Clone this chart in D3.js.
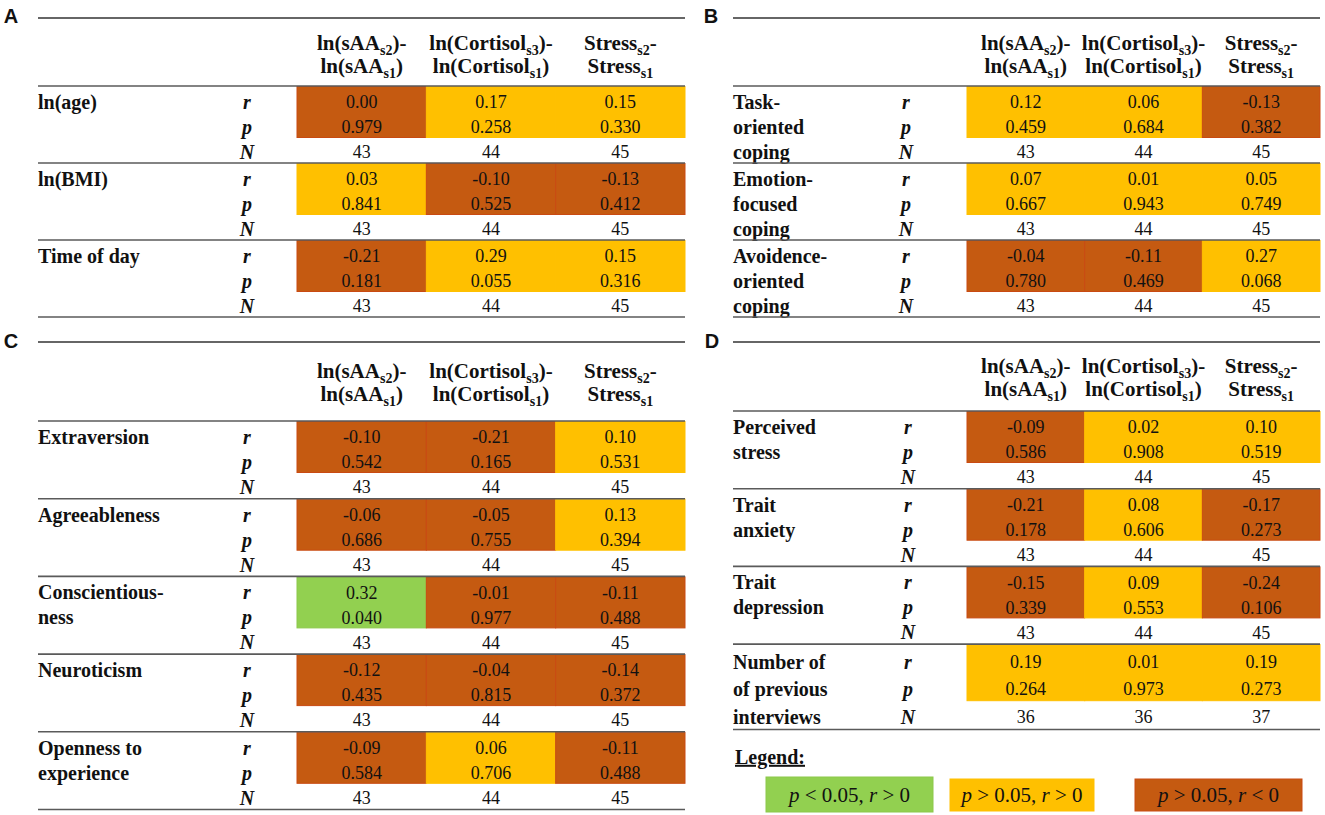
<!DOCTYPE html>
<html>
<head>
<meta charset="utf-8">
<script src="https://cdn.jsdelivr.net/npm/d3@7"></script>
<style>
  html, body { margin: 0; padding: 0; background: #fff; }
  svg { display: block; font-family: "Liberation Serif", "Times New Roman", serif; }
</style>
</head>
<body>
<svg id="chart" width="1325" height="815"></svg>
<script>
// column heads: [text, subscript, tail] for the two header lines
const headTop = [['ln(sAA', 's2', ')-'], ['ln(Cortisol', 's3', ')-'], ['Stress', 's2', '-']];
const headBottom = [['ln(sAA', 's1', ')'], ['ln(Cortisol', 's1', ')'], ['Stress', 's1', '']];
const statNames = ['r', 'p', 'N'];

// panel A
const rowsA = [['ln(age)'], ['ln(BMI)'], ['Time of day']];
const rA = [[0.00, 0.17, 0.15], [0.03, -0.10, -0.13], [-0.21, 0.29, 0.15]];
const pA = [[0.979, 0.258, 0.330], [0.841, 0.525, 0.412], [0.181, 0.055, 0.316]];
const nA = [[43, 44, 45], [43, 44, 45], [43, 44, 45]];
const tagA = [['neg', 'pos', 'pos'], ['pos', 'neg', 'neg'], ['neg', 'pos', 'pos']];

// panel B
const rowsB = [['Task-', 'oriented', 'coping'], ['Emotion-', 'focused', 'coping'], ['Avoidence-', 'oriented', 'coping']];
const rB = [[0.12, 0.06, -0.13], [0.07, 0.01, 0.05], [-0.04, -0.11, 0.27]];
const pB = [[0.459, 0.684, 0.382], [0.667, 0.943, 0.749], [0.780, 0.469, 0.068]];
const nB = [[43, 44, 45], [43, 44, 45], [43, 44, 45]];
const tagB = [['pos', 'pos', 'neg'], ['pos', 'pos', 'pos'], ['neg', 'neg', 'pos']];

// panel C
const rowsC = [['Extraversion'], ['Agreeableness'], ['Conscientious-', 'ness'], ['Neuroticism'], ['Openness to', 'experience']];
const rC = [[-0.10, -0.21, 0.10], [-0.06, -0.05, 0.13], [0.32, -0.01, -0.11], [-0.12, -0.04, -0.14], [-0.09, 0.06, -0.11]];
const pC = [[0.542, 0.165, 0.531], [0.686, 0.755, 0.394], [0.040, 0.977, 0.488], [0.435, 0.815, 0.372], [0.584, 0.706, 0.488]];
const nC = [[43, 44, 45], [43, 44, 45], [43, 44, 45], [43, 44, 45], [43, 44, 45]];
const tagC = [['neg', 'neg', 'pos'], ['neg', 'neg', 'pos'], ['sig', 'neg', 'neg'], ['neg', 'neg', 'neg'], ['neg', 'pos', 'neg']];

// panel D
const rowsD = [['Perceived', 'stress'], ['Trait', 'anxiety'], ['Trait', 'depression'], ['Number of', 'of previous', 'interviews']];
const rD = [[-0.09, 0.02, 0.10], [-0.21, 0.08, -0.17], [-0.15, 0.09, -0.24], [0.19, 0.01, 0.19]];
const pD = [[0.586, 0.908, 0.519], [0.178, 0.606, 0.273], [0.339, 0.553, 0.106], [0.264, 0.973, 0.273]];
const nD = [[43, 44, 45], [43, 44, 45], [43, 44, 45], [36, 36, 37]];
const tagD = [['neg', 'pos', 'pos'], ['neg', 'pos', 'neg'], ['neg', 'pos', 'neg'], ['pos', 'pos', 'pos']];

// legend
const legendKeys = ['sig', 'pos', 'neg'];
const legendP = ['<', '>', '>'];
const legendR = ['>', '>', '<'];

const fill = d3.scaleOrdinal().domain(legendKeys).range(['#92d050', '#ffc000', '#c55a11']);
const edge = d3.scaleOrdinal().domain(legendKeys).range(['#8cc84a', '#ffc000', '#c94a12']);
const fmt2 = (v) => v.toFixed(2);
const fmt3 = (v) => v.toFixed(3);

const svg = d3.select('#chart');

const panels = [
  { letter: 'A', rows: rowsA, r: rA, p: pA, n: nA, tag: tagA, x0: 38, x1: 685, statX: 247, cellX0: 297, top: 18, head1: 44, head2: 67, sep: 86, groupH: 77, letterX: 11, letterY: 16 },
  { letter: 'B', rows: rowsB, r: rB, p: pB, n: nB, tag: tagB, x0: 733, x1: 1320, statX: 906, cellX0: 967, top: 18, head1: 44, head2: 67, sep: 86, groupH: 77, letterX: 711, letterY: 16 },
  { letter: 'C', rows: rowsC, r: rC, p: pC, n: nC, tag: tagC, x0: 38, x1: 685, statX: 247, cellX0: 297, top: 342, head1: 372, head2: 395, sep: 421, groupH: 77.7, letterX: 11, letterY: 341 },
  { letter: 'D', rows: rowsD, r: rD, p: pD, n: nD, tag: tagD, x0: 733, x1: 1320, statX: 908, cellX0: 967, top: 342, head1: 367, head2: 390, sep: 411, groupH: 77.7, letterX: 712, letterY: 341, lastStretch: 1.1 },
];

function addHead(g, parts, x, y) {
  const t = g.append('text').attr('x', x).attr('y', y).attr('dy', '0.3em')
    .attr('text-anchor', 'middle').attr('font-weight', 'bold').attr('font-size', 21).attr('fill', '#111');
  t.append('tspan').text(parts[0]);
  t.append('tspan').attr('font-size', 14).attr('dy', 5).text(parts[1]);
  if (parts[2]) t.append('tspan').attr('dy', -5).text(parts[2]);
}

function drawPanel(cfg) {
  const g = svg.append('g');
  const x = d3.scaleBand().domain([0, 1, 2]).range([cfg.cellX0, cfg.x1]);
  const weights = cfg.rows.map((_, i) => (cfg.lastStretch && i === cfg.rows.length - 1 ? cfg.lastStretch : 1));
  const tops = [0, ...d3.cumsum(weights)].map((w) => cfg.sep + w * cfg.groupH);
  const statY = d3.scalePoint().domain(statNames).range([16, 66]);

  g.append('text').attr('x', cfg.letterX).attr('y', cfg.letterY).attr('dy', '0.36em')
    .attr('text-anchor', 'middle').attr('font-family', '"Liberation Sans", Arial, sans-serif')
    .attr('font-weight', 'bold').attr('font-size', 20).attr('fill', '#111').text(cfg.letter);

  // header
  x.domain().forEach((c) => {
    addHead(g, headTop[c], x(c) + x.bandwidth() / 2, cfg.head1);
    addHead(g, headBottom[c], x(c) + x.bandwidth() / 2, cfg.head2);
  });

  cfg.rows.forEach((label, i) => {
    const y0 = tops[i];
    const k = weights[i];
    const gy = (s) => y0 + statY(s) * k;
    // coloured r/p cells
    g.selectAll(null).data(cfg.tag[i]).join('rect')
      .attr('x', (_, c) => x(c)).attr('y', y0 + 0.5)
      .attr('width', x.bandwidth()).attr('height', 51 * k)
      .attr('fill', (d) => fill(d)).attr('stroke', (d) => edge(d)).attr('stroke-width', 1);
    // values
    const vals = [cfg.r[i].map(fmt2), cfg.p[i].map(fmt3), cfg.n[i].map(String)];
    statNames.forEach((s, si) => {
      g.selectAll(null).data(vals[si]).join('text')
        .attr('x', (_, c) => x(c) + x.bandwidth() / 2).attr('y', gy(s)).attr('dy', '0.34em')
        .attr('text-anchor', 'middle').attr('font-size', 18).attr('fill', '#111').text((d) => d);
      g.append('text').attr('x', cfg.statX).attr('y', gy(s)).attr('dy', '0.34em')
        .attr('text-anchor', 'middle').attr('font-size', 20).attr('font-weight', 'bold')
        .attr('font-style', 'italic').attr('fill', '#111').text(s);
    });
    // row label lines
    g.selectAll(null).data(label).join('text')
      .attr('x', cfg.x0).attr('y', (_, j) => gy(statNames[j])).attr('dy', '0.34em')
      .attr('font-size', 20).attr('font-weight', 'bold').attr('fill', '#111').text((d) => d);
  });

  // rules
  g.append('line').attr('x1', cfg.x0).attr('x2', cfg.x1).attr('y1', cfg.top).attr('y2', cfg.top)
    .attr('stroke', '#333').attr('stroke-width', 1.4);
  g.selectAll(null).data(tops).join('line')
    .attr('x1', cfg.x0).attr('x2', cfg.x1).attr('y1', (d) => d).attr('y2', (d) => d)
    .attr('stroke', '#5a5a5a').attr('stroke-width', 1.6);
}

panels.forEach(drawPanel);

// legend
const legendBox = [[766, 777, 167, 35], [950, 779, 144, 32], [1135, 779, 167, 32]];
const lg = svg.append('g');
lg.append('text').attr('x', 735).attr('y', 757).attr('dy', '0.34em')
  .attr('font-size', 20).attr('font-weight', 'bold').attr('text-decoration', 'underline')
  .attr('fill', '#111').text('Legend:');
legendKeys.forEach((key, i) => {
  const [bx, by, bw, bh] = legendBox[i];
  lg.append('rect').attr('x', bx).attr('y', by).attr('width', bw).attr('height', bh)
    .attr('fill', fill(key)).attr('stroke', edge(key));
  const t = lg.append('text').attr('x', bx + bw / 2).attr('y', by + bh / 2).attr('dy', '0.34em')
    .attr('text-anchor', 'middle').attr('font-size', 21).attr('fill', '#111');
  t.append('tspan').attr('font-style', 'italic').text('p');
  t.append('tspan').text(` ${legendP[i]} 0.05, `);
  t.append('tspan').attr('font-style', 'italic').text('r');
  t.append('tspan').text(` ${legendR[i]} 0`);
});
</script>
</body>
</html>
